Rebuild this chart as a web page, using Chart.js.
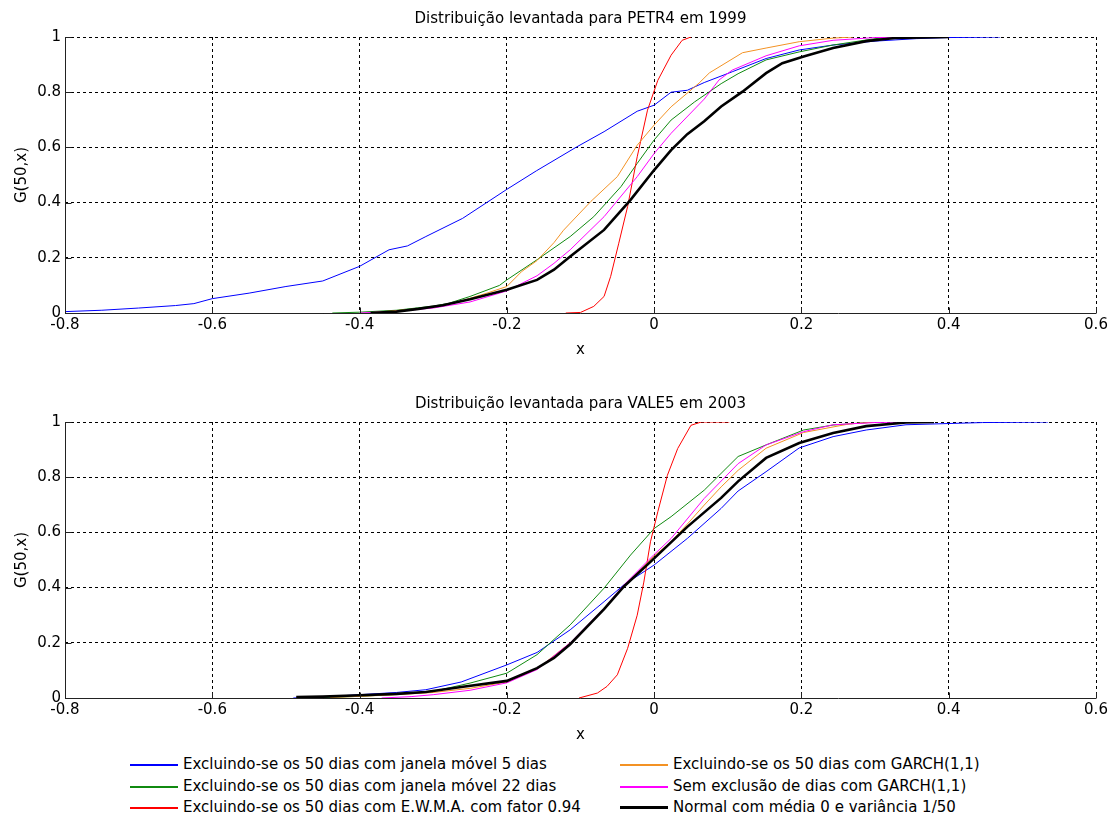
<!DOCTYPE html>
<html>
<head>
<meta charset="utf-8">
<script src="https://cdn.jsdelivr.net/npm/chart.js@4.4.0/dist/chart.umd.min.js"></script>
<style>
  body { margin: 0; background: #fff; width: 1111px; height: 818px; overflow: hidden; font-family: 'DejaVu Sans', sans-serif; }
  .painel { position: absolute; left: 0; width: 1111px; height: 360px; }
  .titulo { position: absolute; left: 280px; width: 601px; text-align: center; height: 20px; line-height: 20px; font-size: 15px; color: #000; white-space: nowrap; }
  .item { position: absolute; height: 20px; line-height: 20px; font-size: 15px; color: #000; white-space: nowrap; }
  .item span.linha { display: inline-block; width: 48px; vertical-align: middle; margin-right: 5px; }
</style>
</head>
<body>
<div class="painel" style="top:0px"><canvas id="graficoPetr"></canvas></div>
<div class="painel" style="top:385px"><canvas id="graficoVale"></canvas></div>
<div class="titulo" id="tituloPetr" style="top:8px"></div>
<div class="titulo" id="tituloVale" style="top:393px"></div>
<div id="legenda"></div>

<script>
// Títulos e nomes das séries (mesma ordem da legenda)
const titulos = ['Distribuição levantada para PETR4 em 1999', 'Distribuição levantada para VALE5 em 2003'];
const serieNomes = [
  'Excluindo-se os 50 dias com janela móvel 5 dias',
  'Excluindo-se os 50 dias com janela móvel 22 dias',
  'Excluindo-se os 50 dias com E.W.M.A. com fator 0.94',
  'Excluindo-se os 50 dias com GARCH(1,1)',
  'Sem exclusão de dias com GARCH(1,1)',
  'Normal com média 0 e variância 1/50'
];
const serieCores = ['#0000ff', '#108a10', '#ff0000', '#f39224', '#ff00ff', '#000000'];
const serieEspessura = [1, 1, 1, 1, 1, 2.6];

// Eixos
const ticksX = [-0.8, -0.6, -0.4, -0.2, 0, 0.2, 0.4, 0.6];
const ticksY = [0, 0.2, 0.4, 0.6, 0.8, 1];

// ---- PETR4 em 1999 ----
const petrAzulX = [-0.8, -0.75, -0.7, -0.65, -0.625, -0.6, -0.55, -0.5, -0.45, -0.4, -0.36, -0.335, -0.31, -0.26, -0.2, -0.16, -0.105, -0.068, -0.023, 0, 0.023, 0.045, 0.068, 0.106, 0.152, 0.197, 0.243, 0.3, 0.356, 0.4, 0.47];
const petrAzulG = [0.005, 0.01, 0.018, 0.027, 0.034, 0.052, 0.072, 0.096, 0.116, 0.169, 0.229, 0.243, 0.277, 0.343, 0.448, 0.515, 0.602, 0.657, 0.731, 0.753, 0.8, 0.807, 0.835, 0.874, 0.922, 0.953, 0.971, 0.985, 0.994, 0.998, 1.0];

const petrVerdeX = [-0.437, -0.4, -0.35, -0.3, -0.279, -0.25, -0.21, -0.2, -0.159, -0.114, -0.082, -0.045, -0.023, 0, 0.023, 0.055, 0.091, 0.114, 0.152, 0.197, 0.243, 0.3, 0.33];
const petrVerdeG = [0, 0.003, 0.01, 0.025, 0.035, 0.06, 0.1, 0.12, 0.193, 0.277, 0.349, 0.458, 0.542, 0.627, 0.699, 0.765, 0.831, 0.867, 0.917, 0.946, 0.971, 0.994, 1.0];

const petrVermelhoX = [-0.12, -0.1, -0.082, -0.068, -0.059, -0.048, -0.036, -0.023, -0.009, 0.005, 0.023, 0.038, 0.05];
const petrVermelhoG = [0, 0.002, 0.024, 0.06, 0.133, 0.253, 0.386, 0.566, 0.735, 0.843, 0.934, 0.988, 1.0];

const petrLaranjaX = [-0.38, -0.3, -0.26, -0.227, -0.2, -0.18, -0.159, -0.136, -0.123, -0.086, -0.05, -0.023, 0, 0.023, 0.061, 0.075, 0.12, 0.152, 0.197, 0.243, 0.27];
const petrLaranjaG = [0.002, 0.02, 0.045, 0.072, 0.096, 0.15, 0.19, 0.255, 0.3, 0.404, 0.494, 0.608, 0.681, 0.747, 0.833, 0.87, 0.943, 0.96, 0.983, 0.996, 1.0];

const petrMagentaX = [-0.4, -0.35, -0.3, -0.25, -0.2, -0.159, -0.136, -0.114, -0.068, -0.023, 0, 0.023, 0.068, 0.088, 0.106, 0.152, 0.197, 0.243, 0.3, 0.35];
const petrMagentaG = [0, 0.006, 0.018, 0.04, 0.08, 0.135, 0.18, 0.229, 0.349, 0.494, 0.578, 0.651, 0.775, 0.844, 0.88, 0.932, 0.968, 0.988, 0.998, 1.0];

const petrPretoX = [-0.385, -0.35, -0.32, -0.287, -0.25, -0.2, -0.159, -0.136, -0.114, -0.068, -0.032, 0, 0.023, 0.045, 0.068, 0.091, 0.12, 0.152, 0.174, 0.203, 0.243, 0.288, 0.33, 0.4];
const petrPretoG = [0, 0.005, 0.015, 0.028, 0.05, 0.084, 0.12, 0.157, 0.205, 0.301, 0.41, 0.518, 0.59, 0.648, 0.695, 0.748, 0.802, 0.869, 0.905, 0.929, 0.96, 0.985, 0.997, 1.0];

// ---- VALE5 em 2003 ----
const valeAzulX = [-0.49, -0.45, -0.4, -0.35, -0.31, -0.262, -0.2, -0.159, -0.114, -0.068, -0.041, 0, 0.045, 0.091, 0.114, 0.152, 0.197, 0.243, 0.288, 0.342, 0.446, 0.535];
const valeAzulG = [0, 0.004, 0.012, 0.02, 0.03, 0.058, 0.12, 0.165, 0.247, 0.349, 0.41, 0.482, 0.578, 0.687, 0.75, 0.82, 0.906, 0.947, 0.971, 0.99, 0.998, 1.0];

const valeVerdeX = [-0.47, -0.4, -0.35, -0.295, -0.25, -0.2, -0.159, -0.114, -0.068, -0.032, 0, 0.023, 0.068, 0.114, 0.152, 0.203, 0.243, 0.3];
const valeVerdeG = [0, 0.006, 0.013, 0.027, 0.054, 0.09, 0.157, 0.265, 0.398, 0.518, 0.614, 0.657, 0.753, 0.875, 0.917, 0.971, 0.989, 1.0];

const valeVermelhoX = [-0.102, -0.077, -0.064, -0.05, -0.036, -0.023, -0.014, -0.005, 0.005, 0.018, 0.032, 0.05, 0.064, 0.102];
const valeVermelhoG = [0, 0.018, 0.042, 0.084, 0.18, 0.3, 0.42, 0.566, 0.675, 0.807, 0.904, 0.988, 1.0, 1.0];

const valeLaranjaX = [-0.44, -0.4, -0.35, -0.3, -0.25, -0.2, -0.159, -0.114, -0.068, -0.041, 0, 0.023, 0.045, 0.068, 0.091, 0.114, 0.152, 0.203, 0.265, 0.3];
const valeLaranjaG = [0.002, 0.006, 0.012, 0.02, 0.035, 0.058, 0.105, 0.2, 0.322, 0.405, 0.515, 0.566, 0.63, 0.699, 0.765, 0.825, 0.905, 0.962, 0.993, 1.0];

const valeMagentaX = [-0.37, -0.33, -0.3, -0.25, -0.2, -0.159, -0.114, -0.068, -0.041, 0, 0.023, 0.068, 0.114, 0.152, 0.203, 0.243, 0.3, 0.34];
const valeMagentaG = [0, 0.005, 0.012, 0.028, 0.055, 0.103, 0.2, 0.325, 0.41, 0.52, 0.578, 0.723, 0.849, 0.917, 0.965, 0.99, 0.998, 1.0];

const valePretoX = [-0.486, -0.45, -0.4, -0.35, -0.31, -0.262, -0.2, -0.159, -0.136, -0.114, -0.068, -0.041, 0, 0.045, 0.091, 0.114, 0.152, 0.197, 0.243, 0.288, 0.342, 0.38];
const valePretoG = [0.003, 0.005, 0.01, 0.015, 0.022, 0.04, 0.062, 0.108, 0.145, 0.195, 0.322, 0.404, 0.506, 0.62, 0.725, 0.785, 0.87, 0.924, 0.96, 0.985, 0.998, 1.0];

// Monta os pares {x, y} de uma série
function pares(xs, gs) {
  return xs.map((x, i) => ({ x: x, y: gs[i] }));
}

// Eixos sólidos à esquerda e embaixo, com marcas para dentro (estilo MATLAB)
const eixosMatlab = {
  id: 'eixosMatlab',
  afterDraw(chart) {
    const ctx = chart.ctx;
    const area = chart.chartArea;
    const sx = chart.scales.x, sy = chart.scales.y;
    const esq = Math.round(area.left) + 0.5;
    const baixo = Math.round(area.bottom) + 0.5;
    ctx.save();
    ctx.setLineDash([]);
    ctx.strokeStyle = '#222';
    ctx.lineWidth = 1;
    ctx.beginPath();
    ctx.moveTo(esq, area.top); ctx.lineTo(esq, baixo); ctx.lineTo(area.right, baixo);
    ticksX.forEach(v => {
      const px = Math.round(sx.getPixelForValue(v)) + 0.5;
      ctx.moveTo(px, baixo); ctx.lineTo(px, baixo - 6);
    });
    ticksY.forEach(v => {
      const py = Math.round(sy.getPixelForValue(v)) + 0.5;
      ctx.moveTo(esq, py); ctx.lineTo(esq + 6, py);
    });
    ctx.stroke();
    ctx.restore();
  }
};

const fonteEixo = { family: 'DejaVu Sans', size: 15 };

function gerarGrafico(idCanvas, series) {
  const ctx = document.getElementById(idCanvas).getContext('2d');
  const ordemDesenho = [5, 4, 3, 2, 1, 0]; // preto por cima
  return new Chart(ctx, {
    type: 'line',
    data: {
      datasets: series.map((s, i) => ({
        label: serieNomes[i],
        data: pares(s[0], s[1]),
        borderColor: serieCores[i],
        backgroundColor: serieCores[i],
        borderWidth: serieEspessura[i],
        pointRadius: 0,
        tension: 0,
        fill: false,
        order: ordemDesenho[i]
      }))
    },
    options: {
      responsive: false,
      animation: false,
      layout: { padding: { left: 0, right: 15, top: 37, bottom: 0 } },
      plugins: {
        legend: { display: false },
        tooltip: { enabled: false },
        title: { display: false }
      },
      scales: {
        x: {
          type: 'linear',
          min: -0.8,
          max: 0.6,
          afterBuildTicks: s => { s.ticks = ticksX.map(v => ({ value: v })); },
          afterFit: s => { s.height = 47; },
          ticks: {
            color: '#000',
            padding: 3,
            maxRotation: 0,
            font: fonteEixo,
            callback: v => String(Math.round(v * 10) / 10)
          },
          grid: { color: '#000', lineWidth: 1, drawTicks: false },
          border: { display: false, dash: [3, 3] },
          title: {
            display: true,
            text: 'x',
            color: '#000',
            font: fonteEixo,
            padding: { top: 0, bottom: 1 }
          }
        },
        y: {
          min: 0,
          max: 1,
          afterBuildTicks: s => { s.ticks = ticksY.map(v => ({ value: v })); },
          afterFit: s => { s.width = 65; },
          ticks: {
            color: '#000',
            padding: 4,
            font: fonteEixo,
            callback: v => String(Math.round(v * 10) / 10)
          },
          grid: { color: '#000', lineWidth: 1, drawTicks: false },
          border: { display: false, dash: [3, 3] },
          title: {
            display: true,
            text: 'G(50,x)',
            color: '#000',
            font: fonteEixo,
            padding: { top: 13, bottom: 0 }
          }
        }
      }
    },
    plugins: [eixosMatlab]
  });
}

function ajustarCanvas(id) {
  const c = document.getElementById(id);
  c.width = 1111; c.height = 360;
  c.style.width = '1111px'; c.style.height = '360px';
}

function montarLegenda() {
  const legenda = document.getElementById('legenda');
  const colunas = [130, 620];
  const linhas = [754, 776, 797];
  serieNomes.forEach((nome, i) => {
    const item = document.createElement('div');
    item.className = 'item';
    item.style.left = colunas[Math.floor(i / 3)] + 'px';
    item.style.top = linhas[i % 3] + 'px';
    const linha = document.createElement('span');
    linha.className = 'linha';
    linha.style.borderTop = (i === 5 ? 3 : 2) + 'px solid ' + serieCores[i];
    item.appendChild(linha);
    item.appendChild(document.createTextNode(nome));
    legenda.appendChild(item);
  });
}

window.onload = function() {
  ajustarCanvas('graficoPetr');
  ajustarCanvas('graficoVale');
  document.getElementById('tituloPetr').textContent = titulos[0];
  document.getElementById('tituloVale').textContent = titulos[1];
  gerarGrafico('graficoPetr', [
    [petrAzulX, petrAzulG], [petrVerdeX, petrVerdeG], [petrVermelhoX, petrVermelhoG],
    [petrLaranjaX, petrLaranjaG], [petrMagentaX, petrMagentaG], [petrPretoX, petrPretoG]
  ]);
  gerarGrafico('graficoVale', [
    [valeAzulX, valeAzulG], [valeVerdeX, valeVerdeG], [valeVermelhoX, valeVermelhoG],
    [valeLaranjaX, valeLaranjaG], [valeMagentaX, valeMagentaG], [valePretoX, valePretoG]
  ]);
  montarLegenda();
};
</script>
</body>
</html>
